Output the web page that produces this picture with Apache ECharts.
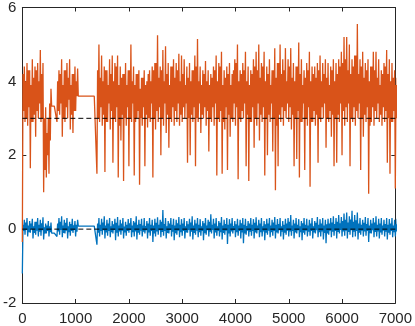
<!DOCTYPE html>
<html>
<head>
<meta charset="utf-8">
<script src="https://cdn.jsdelivr.net/npm/echarts@6/dist/echarts.min.js"></script>
<style>
    html, body { margin: 0; padding: 0; background: #fff; }
    #chart { width: 415px; height: 326px; }
</style>
</head>
<body>
<div id="chart"></div>
<script>
// sample spacing along x (one step = low, mid high, mid low, high)
var step = 50;
var xMin = 0, xMax = 7000, xInterval = 1000;
var yMin = -2, yMax = 6, yInterval = 2;
var refLevels = [3, 0];

// orange trace: low / high envelope, every 50 samples
var orangeLo = [
    -0.35, 2.9, 2.8, 1.65, 2.9, 2.5, 3.0, 2.9, 1.0, 1.4,
    1.5, 3.33, 3.33, 2.9, 3.1, 2.5, 2.9, 3.0, 2.7, 2.6,
    3.2, 3.6, 3.6, 3.6, 3.6, 3.6, 3.6, 3.6, 1.5, 2.9,
    2.8, 1.55, 2.9, 2.7, 1.8, 2.9, 1.4, 2.4, 1.3, 2.8,
    1.7, 2.9, 1.45, 3.0, 1.2, 2.8, 1.7, 2.75, 2.9, 1.4,
    2.7, 2.9, 2.0, 2.8, 2.6, 2.2, 2.9, 2.8, 2.9, 2.8,
    2.9, 3.0, 1.8, 2.0, 2.9, 1.7, 2.9, 2.6, 3.0, 2.8,
    2.1, 2.9, 2.8, 1.45, 2.9, 1.5, 2.7, 1.6, 2.5, 2.9,
    2.8, 1.35, 2.9, 3.0, 1.7, 1.3, 2.9, 2.2, 2.8, 2.4,
    2.9, 1.45, 2.0, 2.9, 2.1, 1.05, 1.7, 2.9, 2.8, 3.0,
    2.9, 2.7, 1.7, 1.9, 1.4, 2.9, 1.6, 2.8, 1.15, 2.9,
    2.8, 1.8, 2.9, 3.0, 2.2, 2.9, 2.5, 1.7, 1.8, 2.9,
    2.0, 2.8, 2.9, 1.7, 2.9, 2.8, 3.0, 1.6, 2.5, 2.9,
    0.96, 2.9, 2.8, 3.0, 2.9, 2.8, 2.9, 1.8, 1.5, 2.9,
    1.1
];
var orangeHi = [
    4.4, 4.5, 4.3, 4.6, 4.4, 4.5, 4.85, 4.5, 3.3, 3.0,
    3.8, 3.33, 3.33, 4.3, 4.6, 4.3, 4.5, 4.6, 4.2, 4.4,
    4.35, 3.6, 3.6, 3.6, 3.6, 3.6, 3.6, 3.6, 5.0, 4.7,
    4.4, 4.3, 4.6, 4.7, 4.5, 4.7, 4.4, 4.2, 4.5, 4.3,
    5.0, 4.4, 4.2, 4.3, 4.1, 4.3, 4.0, 4.3, 4.4, 4.5,
    5.25, 4.4, 4.85, 4.95, 4.5, 4.4, 4.6, 4.5, 4.75, 4.7,
    4.6, 4.4, 4.5, 4.3, 4.7, 5.15, 4.4, 4.3, 4.55, 4.3,
    4.2, 4.4, 4.7, 4.5, 4.8, 4.3, 4.4, 4.5, 4.2, 4.6,
    5.0, 4.3, 4.5, 4.8, 4.4, 4.3, 4.6, 4.8, 5.0, 4.5,
    4.8, 4.4, 4.6, 4.3, 4.9, 4.5, 5.0, 4.6, 4.9, 4.6,
    4.9, 4.5, 4.4, 5.05, 4.6, 4.3, 4.5, 4.8, 4.4, 4.4,
    4.5, 4.7, 4.5, 4.6, 4.5, 4.4, 4.6, 4.5, 4.6, 4.8,
    5.2, 5.2, 5.0, 4.6, 4.7, 5.55, 4.6, 4.8, 4.5, 4.6,
    4.4, 4.8, 4.8, 4.6, 4.3, 4.5, 4.85, 4.6, 4.5, 4.3,
    4.1
];
// edges of the dense orange core, same spacing
var orangeMidHi = [
    4.2, 4.0, 4.3, 3.9, 4.1, 4.3, 4.0, 4.2, 3.0, 2.6,
    3.4, 3.33, 3.33, 4.0, 4.2, 3.9, 4.3, 4.1, 3.9, 4.2,
    4.0, 3.6, 3.6, 3.6, 3.6, 3.6, 3.6, 3.6, 4.3, 4.1,
    4.0, 4.3, 3.9, 4.2, 4.0, 4.4, 3.9, 4.1, 4.2, 3.9,
    4.3, 4.0, 3.9, 4.2, 3.8, 4.1, 3.9, 4.2, 4.0, 4.3,
    4.5, 4.1, 4.3, 4.0, 4.2, 3.9, 4.4, 4.1, 4.3, 4.0,
    4.2, 3.9, 4.1, 4.0, 4.3, 4.4, 4.0, 3.9, 4.2, 4.0,
    3.9, 4.1, 4.3, 4.0, 4.4, 3.9, 4.1, 4.2, 3.9, 4.3,
    4.5, 4.0, 4.2, 4.3, 4.0, 3.9, 4.2, 4.4, 4.3, 4.1,
    4.4, 4.0, 4.2, 3.9, 4.3, 4.1, 4.5, 4.2, 4.3, 4.0,
    4.4, 4.1, 4.0, 4.4, 4.2, 3.9, 4.1, 4.3, 4.0, 4.2,
    4.1, 4.3, 4.0, 4.2, 4.1, 3.9, 4.3, 4.0, 4.2, 4.4,
    4.5, 4.6, 4.3, 4.2, 4.4, 4.7, 4.2, 4.4, 4.1, 4.3,
    4.0, 4.4, 4.3, 4.1, 3.9, 4.2, 4.4, 4.2, 4.0, 4.1,
    3.9
];
var orangeMidLo = [
    3.2, 3.0, 3.3, 2.9, 3.1, 3.2, 3.4, 3.0, 1.6, 2.0,
    2.4, 3.33, 3.33, 3.2, 3.4, 3.0, 3.3, 3.5, 3.1, 3.2,
    3.6, 3.6, 3.6, 3.6, 3.6, 3.6, 3.6, 3.6, 3.0, 3.3,
    3.1, 2.9, 3.4, 3.2, 3.0, 3.3, 2.8, 3.1, 3.0, 3.3,
    3.0, 3.4, 2.9, 3.2, 3.0, 3.3, 3.1, 3.0, 3.4, 3.0,
    3.2, 3.3, 3.0, 3.4, 3.1, 3.0, 3.3, 3.2, 3.4, 3.1,
    3.3, 3.4, 3.0, 3.1, 3.3, 3.0, 3.4, 3.1, 3.3, 3.2,
    3.0, 3.3, 3.4, 3.0, 3.2, 2.9, 3.3, 3.1, 3.0, 3.4,
    3.3, 3.0, 3.2, 3.4, 3.1, 2.9, 3.3, 3.0, 3.4, 3.1,
    3.3, 3.0, 3.1, 3.4, 3.0, 2.8, 3.1, 3.3, 3.2, 3.4,
    3.3, 3.1, 3.0, 3.2, 2.9, 3.4, 3.0, 3.3, 2.9, 3.2,
    3.1, 3.0, 3.3, 3.4, 3.0, 3.2, 3.1, 3.0, 3.1, 3.4,
    3.2, 3.3, 3.4, 3.0, 3.3, 3.2, 3.4, 3.0, 3.1, 3.3,
    2.8, 3.3, 3.2, 3.4, 3.1, 3.3, 3.2, 3.0, 2.9, 3.2,
    3.0
];

// blue trace: low / high envelope, same spacing
var blueLo = [
    -1.2, -0.15, -0.2, -0.1, -0.25, -0.15, -0.2, -0.18, -0.28, -0.12,
    -0.2, -0.11, -0.11, -0.2, -0.15, -0.22, -0.12, -0.25, -0.18, -0.1,
    -0.2, 0.08, 0.08, 0.08, 0.08, 0.08, 0.08, 0.08, -0.42, -0.2,
    -0.15, -0.25, -0.18, -0.22, -0.12, -0.3, -0.2, -0.15, -0.25, -0.18,
    -0.1, -0.22, -0.2, -0.28, -0.15, -0.2, -0.12, -0.25, -0.18, -0.35,
    -0.2, -0.15, -0.22, -0.18, -0.25, -0.12, -0.2, -0.3, -0.15, -0.22,
    -0.18, -0.25, -0.1, -0.2, -0.28, -0.15, -0.22, -0.18, -0.3, -0.15,
    -0.2, -0.12, -0.25, -0.18, -0.2, -0.28, -0.15, -0.4, -0.2, -0.12,
    -0.22, -0.18, -0.25, -0.38, -0.15, -0.2, -0.18, -0.25, -0.12, -0.22,
    -0.2, -0.3, -0.15, -0.22, -0.18, -0.25, -0.12, -0.2, -0.28, -0.15,
    -0.2, -0.18, -0.25, -0.12, -0.22, -0.3, -0.15, -0.2, -0.18, -0.25,
    -0.12, -0.22, -0.2, -0.28, -0.38, -0.15, -0.22, -0.18, -0.25, -0.12,
    -0.2, -0.18, -0.25, -0.15, -0.22, -0.2, -0.28, -0.15, -0.2, -0.18,
    -0.35, -0.12, -0.22, -0.2, -0.25, -0.15, -0.2, -0.28, -0.15, -0.22,
    -0.2
];
var blueHi = [
    0.25, 0.3, 0.22, 0.28, 0.2, 0.3, 0.25, 0.32, 0.15, 0.22,
    0.18, -0.11, -0.11, 0.3, 0.35, 0.25, 0.3, 0.2, 0.28, 0.22,
    0.25, 0.08, 0.08, 0.08, 0.08, 0.08, 0.08, 0.08, 0.3, 0.28,
    0.35, 0.25, 0.3, 0.22, 0.28, 0.33, 0.25, 0.3, 0.2, 0.27,
    0.3, 0.22, 0.35, 0.25, 0.28, 0.3, 0.22, 0.3, 0.25, 0.28,
    0.32, 0.25, 0.52, 0.3, 0.22, 0.3, 0.28, 0.25, 0.33, 0.27,
    0.3, 0.22, 0.28, 0.35, 0.25, 0.3, 0.27, 0.22, 0.3, 0.25,
    0.4, 0.28, 0.3, 0.22, 0.33, 0.25, 0.3, 0.27, 0.3, 0.22,
    0.28, 0.25, 0.3, 0.28, 0.22, 0.3, 0.27, 0.32, 0.25, 0.3,
    0.22, 0.28, 0.3, 0.25, 0.33, 0.27, 0.3, 0.22, 0.28, 0.3,
    0.38, 0.25, 0.3, 0.27, 0.22, 0.3, 0.28, 0.25, 0.3, 0.22,
    0.33, 0.27, 0.3, 0.25, 0.28, 0.3, 0.35, 0.3, 0.38, 0.33,
    0.42, 0.45, 0.35, 0.5, 0.38, 0.45, 0.3, 0.25, 0.33, 0.3,
    0.25, 0.3, 0.35, 0.28, 0.3, 0.25, 0.3, 0.27, 0.3, 0.25,
    0.28
];
// edges of the dense blue core, same spacing
var blueMidHi = [
    0.12, 0.18, 0.1, 0.15, 0.08, 0.2, 0.12, 0.16, 0.05, 0.1,
    0.08, -0.11, -0.11, 0.15, 0.2, 0.1, 0.17, 0.08, 0.14, 0.1,
    0.12, 0.08, 0.08, 0.08, 0.08, 0.08, 0.08, 0.08, 0.15, 0.12,
    0.18, 0.1, 0.15, 0.08, 0.13, 0.17, 0.1, 0.15, 0.07, 0.12,
    0.16, 0.1, 0.18, 0.12, 0.14, 0.1, 0.08, 0.15, 0.12, 0.1,
    0.17, 0.12, 0.2, 0.14, 0.08, 0.15, 0.12, 0.1, 0.16, 0.12,
    0.15, 0.08, 0.13, 0.18, 0.1, 0.15, 0.12, 0.08, 0.16, 0.1,
    0.2, 0.12, 0.15, 0.08, 0.17, 0.1, 0.14, 0.12, 0.15, 0.08,
    0.13, 0.1, 0.16, 0.12, 0.08, 0.15, 0.12, 0.17, 0.1, 0.15,
    0.08, 0.13, 0.15, 0.1, 0.18, 0.12, 0.14, 0.08, 0.12, 0.15,
    0.2, 0.1, 0.15, 0.12, 0.08, 0.16, 0.12, 0.1, 0.15, 0.08,
    0.17, 0.12, 0.15, 0.1, 0.13, 0.15, 0.18, 0.14, 0.2, 0.16,
    0.22, 0.25, 0.18, 0.26, 0.2, 0.24, 0.15, 0.12, 0.17, 0.14,
    0.1, 0.15, 0.18, 0.12, 0.15, 0.1, 0.14, 0.12, 0.15, 0.1,
    0.13
];
var blueMidLo = [
    -0.05, -0.02, -0.08, 0.0, -0.1, -0.04, -0.07, -0.03, -0.12, -0.05,
    -0.08, -0.11, -0.11, -0.06, -0.02, -0.1, -0.04, -0.08, -0.05, -0.02,
    -0.07, 0.08, 0.08, 0.08, 0.08, 0.08, 0.08, 0.08, -0.1, -0.05,
    -0.03, -0.09, -0.05, -0.08, -0.02, -0.1, -0.06, -0.04, -0.09, -0.05,
    -0.02, -0.08, -0.06, -0.1, -0.04, -0.07, -0.03, -0.09, -0.05, -0.12,
    -0.06, -0.03, -0.08, -0.05, -0.1, -0.02, -0.07, -0.11, -0.04, -0.08,
    -0.05, -0.09, -0.02, -0.07, -0.1, -0.04, -0.08, -0.05, -0.11, -0.03,
    -0.07, -0.02, -0.09, -0.05, -0.08, -0.1, -0.04, -0.12, -0.06, -0.03,
    -0.08, -0.05, -0.09, -0.12, -0.04, -0.07, -0.05, -0.09, -0.02, -0.08,
    -0.06, -0.1, -0.04, -0.08, -0.05, -0.09, -0.03, -0.07, -0.1, -0.04,
    -0.06, -0.05, -0.09, -0.03, -0.08, -0.1, -0.04, -0.07, -0.05, -0.09,
    -0.03, -0.08, -0.06, -0.1, -0.12, -0.04, -0.07, -0.05, -0.08, -0.02,
    -0.06, -0.04, -0.08, -0.03, -0.07, -0.05, -0.1, -0.04, -0.06, -0.05,
    -0.11, -0.03, -0.08, -0.06, -0.09, -0.04, -0.07, -0.1, -0.05, -0.08,
    -0.06
];

(function () {
    var myChart = echarts.init(document.getElementById("chart"));

    // walk low -> mid high -> mid low -> high in every step so the band fills like the dense original
    function trace(lo, hi, midLo, midHi) {
        var out = [];
        var q = step / 4;
        for (var i = 0; i < lo.length; i++) {
            var x = i * step;
            out.push([x, lo[i]]);
            out.push([x + q, midHi[i]]);
            out.push([x + 2 * q, midLo[i]]);
            out.push([x + 3 * q, hi[i]]);
        }
        return out;
    }

    var axisColor = "#262626";
    var font = "'Liberation Sans', Arial, Helvetica, sans-serif";

    function xAx(pos, showLabel) {
        return {
            type: "value",
            position: pos,
            min: xMin,
            max: xMax,
            interval: xInterval,
            axisLine: { show: true, onZero: false, lineStyle: { color: axisColor, width: 1 } },
            axisTick: { show: true, inside: true, length: 4, lineStyle: { color: axisColor } },
            axisLabel: {
                show: showLabel,
                color: axisColor,
                fontSize: 15,
                fontFamily: font,
                margin: 8,
                formatter: function (v) {
                    return String(v);
                },
            },
            splitLine: { show: false },
        };
    }
    function yAx(pos, showLabel) {
        return {
            type: "value",
            position: pos,
            min: yMin,
            max: yMax,
            interval: yInterval,
            axisLine: { show: true, onZero: false, lineStyle: { color: axisColor, width: 1 } },
            axisTick: { show: true, inside: true, length: 4, lineStyle: { color: axisColor } },
            axisLabel: { show: showLabel, color: axisColor, fontSize: 15, fontFamily: font, margin: 6 },
            splitLine: { show: false },
        };
    }

    var series = [
        {
            name: "blue",
            type: "line",
            data: trace(blueLo, blueHi, blueMidLo, blueMidHi),
            showSymbol: false,
            symbol: "none",
            lineStyle: { color: "#0072BD", width: 1.3 },
            clip: true,
        },
        {
            name: "orange",
            type: "line",
            data: trace(orangeLo, orangeHi, orangeMidLo, orangeMidHi),
            showSymbol: false,
            symbol: "none",
            lineStyle: { color: "#D95319", width: 1.3 },
            clip: true,
        },
    ];
    // dashed reference levels
    refLevels.forEach(function (v) {
        series.push({
            type: "line",
            data: [[xMin, v], [xMax, v]],
            symbol: "none",
            lineStyle: { color: "#000", width: 1, type: [5, 3] },
            z: 5,
        });
    });

    var option = {
        animation: false,
        backgroundColor: "#fff",
        grid: { left: 20, right: 19, top: 6, bottom: 23, containLabel: false },
        xAxis: [xAx("bottom", true), xAx("top", false)],
        yAxis: [yAx("left", true), yAx("right", false)],
        series: series,
    };
    myChart.setOption(option);
})();
</script>
</body>
</html>
